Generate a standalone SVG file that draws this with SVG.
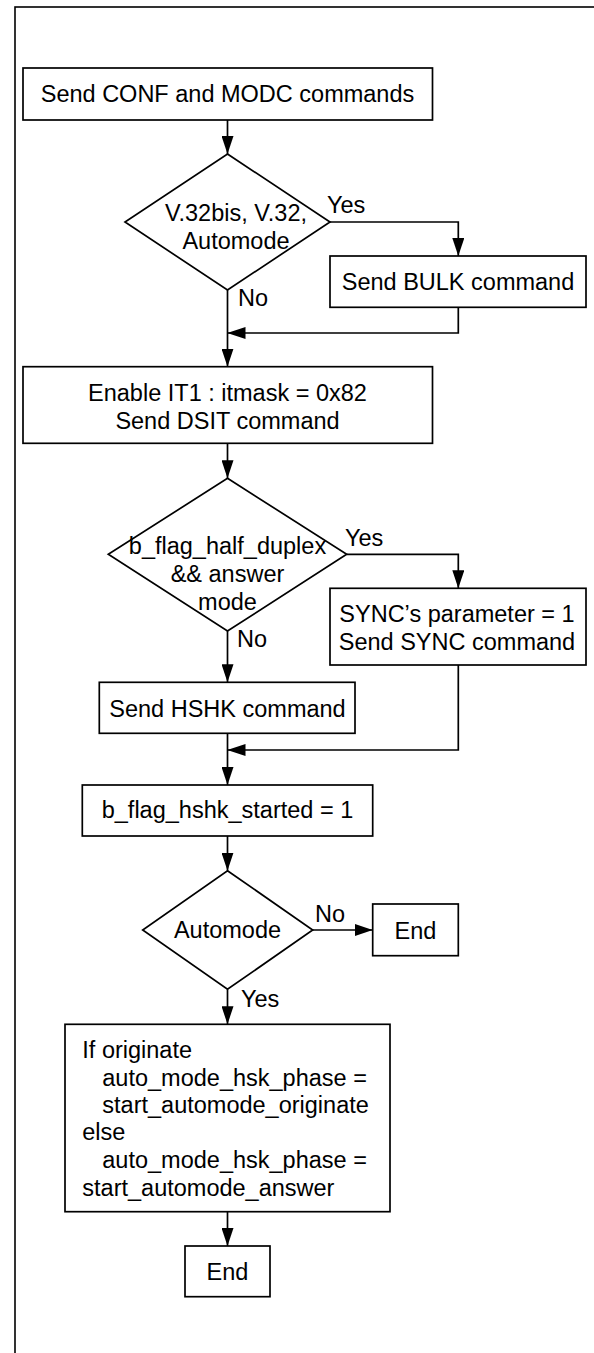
<svg xmlns="http://www.w3.org/2000/svg" width="594" height="1353" viewBox="0 0 594 1353">
<style>
.box{fill:#fff;stroke:#000;stroke-width:1.7}
.frame{fill:none;stroke:#000;stroke-width:1.6}
.con{fill:none;stroke:#000;stroke-width:1.7;marker-end:url(#ah)}
text{font-family:"Liberation Sans",Arial,sans-serif;font-size:23.5px;fill:#000}
.c{text-anchor:middle}
</style>
<defs>
<marker id="ah" viewBox="0 0 18 12" refX="18" refY="6" markerWidth="18" markerHeight="12" markerUnits="userSpaceOnUse" orient="auto">
<path d="M0,0 L18,6 L0,12 z" fill="#000"/>
</marker>
</defs>
<rect width="594" height="1353" fill="#fff"/>
<rect class="frame" x="15" y="7" width="620" height="1400"/>

<g id="connectors">
<path class="con" d="M227.5,120 V154"/>
<path class="con" d="M330,222 H458.3 V256"/>
<path class="con" d="M227.5,290 V366.7"/>
<path class="con" d="M458.3,307.3 V333 H227.5"/>
<path class="con" d="M227.5,443.3 V478.3"/>
<path class="con" d="M346.7,554.3 H458.3 V588.3"/>
<path class="con" d="M227.5,631 V682.3"/>
<path class="con" d="M458.3,665 V750 H227.5"/>
<path class="con" d="M227.5,733.3 V785"/>
<path class="con" d="M227.5,836 V870.7"/>
<path class="con" d="M312.7,930 H372.7"/>
<path class="con" d="M227.5,989.3 V1024.3"/>
<path class="con" d="M227.5,1211.7 V1246"/>
</g>

<g id="labels">
<text x="327" y="213">Yes</text>
<text x="238" y="306">No</text>
<text x="345" y="546">Yes</text>
<text x="237" y="647">No</text>
<text x="315" y="922">No</text>
<text x="241" y="1007">Yes</text>
</g>

<g id="n1">
<rect class="box" x="23" y="68" width="409.5" height="52"/>
<text class="c" x="227.5" y="102">Send CONF and MODC commands</text>
</g>

<g id="d1">
<polygon class="box" points="227.5,154 330,222 227.5,290 125,222"/>
<text class="c" x="236" y="221">V.32bis, V.32,</text>
<text class="c" x="236" y="249">Automode</text>
</g>

<g id="n2">
<rect class="box" x="330" y="256" width="256" height="51.3"/>
<text class="c" x="458" y="290">Send BULK command</text>
</g>

<g id="n3">
<rect class="box" x="23" y="366.7" width="409.5" height="76.6"/>
<text class="c" x="227.5" y="401">Enable IT1 : itmask = 0x82</text>
<text class="c" x="227.5" y="429">Send DSIT command</text>
</g>

<g id="d2">
<polygon class="box" points="227.5,478.3 346.7,554.3 227.5,631 108.3,554.3"/>
<text class="c" x="227.5" y="554">b_flag_half_duplex</text>
<text class="c" x="227.5" y="582">&amp;&amp; answer</text>
<text class="c" x="227.5" y="610">mode</text>
</g>

<g id="n4">
<rect class="box" x="330" y="588.3" width="256" height="76.7"/>
<text class="c" x="457" y="622">SYNC’s parameter = 1</text>
<text class="c" x="457" y="650">Send SYNC command</text>
</g>

<g id="n5">
<rect class="box" x="99.3" y="682.3" width="255.7" height="51"/>
<text class="c" x="227.5" y="717">Send HSHK command</text>
</g>

<g id="n6">
<rect class="box" x="82.3" y="785" width="290.4" height="51"/>
<text class="c" x="227.5" y="818">b_flag_hshk_started = 1</text>
</g>

<g id="d3">
<polygon class="box" points="227.5,870.7 312.7,930 227.5,989.3 142.7,930"/>
<text class="c" x="227.5" y="938">Automode</text>
</g>

<g id="n7">
<rect class="box" x="372.7" y="904" width="85.6" height="51.7"/>
<text class="c" x="415.5" y="939">End</text>
</g>

<g id="n8">
<rect class="box" x="65" y="1024.3" width="325" height="187.4"/>
<text x="82.3" y="1058">If originate</text>
<text x="102.3" y="1086">auto_mode_hsk_phase =</text>
<text x="102.3" y="1113">start_automode_originate</text>
<text x="82.3" y="1140">else</text>
<text x="102.3" y="1168">auto_mode_hsk_phase =</text>
<text x="82.3" y="1196">start_automode_answer</text>
</g>

<g id="n9">
<rect class="box" x="185" y="1246" width="85" height="50.7"/>
<text class="c" x="227.5" y="1280">End</text>
</g>
</svg>
